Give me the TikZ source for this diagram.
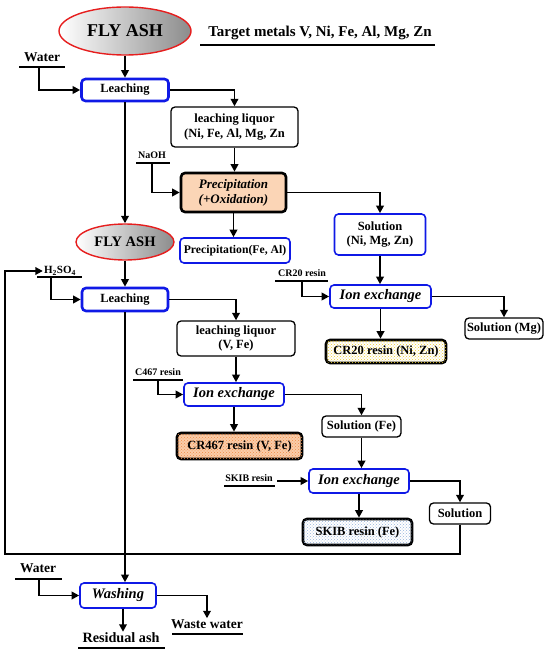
\documentclass[tikz,border=0pt]{standalone}
\usepackage{fontspec}
\setmainfont{Liberation Serif}
\usetikzlibrary{arrows.meta,shapes.geometric,patterns,calc}
\definecolor{bblue}{RGB}{15,25,230}
\definecolor{peach}{RGB}{251,213,182}
\definecolor{peach2}{RGB}{250,205,170}
\definecolor{dotorange}{RGB}{240,140,70}
\definecolor{dotyellow}{RGB}{240,205,40}
\definecolor{dotblue}{RGB}{150,180,220}
\begin{document}
\begin{tikzpicture}[x=1pt,y=-1pt,
  bx/.style={font=\fontsize{12.5}{14.5}\selectfont\bfseries},
  ix/.style={font=\fontsize{14.5}{16}\selectfont\bfseries\itshape},
  sz/.style 2 args={minimum width=#1, minimum height=#2},
  box/.style={draw=black, line width=1.3pt, rounded corners=4pt, align=center, inner sep=1pt, bx},
  bluebox/.style={box, draw=bblue, line width=1.6pt},
  leachbox/.style={box, draw=bblue, line width=2.6pt},
  thickbox/.style={box, line width=2.6pt},
  ash/.style={ellipse, draw={rgb,255:red,230;green,30;blue,30}, line width=1.4pt, inner sep=0pt,
     left color=white, right color={rgb,255:red,140;green,140;blue,140}, font=\bfseries},
  lab/.style={inner sep=1pt, font=\fontsize{13.5}{15}\selectfont\bfseries},
  slab/.style={inner sep=1pt, font=\fontsize{10}{12}\selectfont\bfseries},
  ul/.style={line width=1.2pt},
  arr/.style={line width=1.9pt, -{Triangle[length=7.5pt,width=7.5pt]}}
]
\useasboundingbox (0,0) rectangle (550,655);

% ---- nodes ----
\node[ash, sz={132pt}{48pt}, font=\fontsize{18}{20}\selectfont\bfseries] (fa1) at (125,31) {FLY ASH};
\node[lab, font=\fontsize{15}{17}\selectfont\bfseries] (target) at (320,33) {Target metals V, Ni, Fe, Al, Mg, Zn};
\draw[ul] (200,45) -- (435,45);

\node[lab] (water1) at (42,57) {Water};
\draw[ul] (19,67) -- (65,67);
\coordinate (water1u) at (39,67);

\node[leachbox, sz={87pt}{22pt}] (leach1) at (125,90) {Leaching};
\node[box, sz={127pt}{40pt}] (liq1) at (234.5,127) {leaching liquor\\(Ni, Fe, Al, Mg, Zn};

\node[slab] (naoh) at (152,155) {NaOH};
\draw[ul] (136,163) -- (170,163);
\coordinate (naohu) at (152,163);

\node[thickbox, fill=peach, sz={105pt}{39pt}, font=\fontsize{13}{15}\selectfont\bfseries] (precip) at (233.5,192.5) {\itshape Precipitation\\\itshape (+Oxidation)};
\node[bluebox, sz={110pt}{25pt}, font=\fontsize{11.7}{14}\selectfont\bfseries] (pfeal) at (235,250.5) {Precipitation(Fe, Al)};
\node[bluebox, sz={91pt}{41pt}] (sol1) at (380,234.5) {Solution\\(Ni, Mg, Zn)};

\node[slab] (cr20lab) at (302,273) {CR20 resin};
\draw[ul] (275,281) -- (328,281);
\coordinate (cr20u) at (302,281);

\node[bluebox, sz={101pt}{23pt}, ix] (ion1) at (380.5,296.5) {Ion exchange};
\node[box, sz={78pt}{21pt}] (solmg) at (504,328.5) {Solution (Mg)};
\node[thickbox, fill=white, postaction={pattern=crosshatch dots, pattern color=dotyellow}, sz={120pt}{23pt}] (cr20) at (386,351.5) {CR20 resin (Ni, Zn)};

\node[ash, sz={98pt}{36pt}, font=\fontsize{14.5}{16}\selectfont\bfseries] (fa2) at (125,242) {FLY ASH};

\node[slab, font=\fontsize{11}{13}\selectfont\bfseries] (h2so4) at (60,271) {H\textsubscript{2}SO\textsubscript{4}};
\draw[ul] (37,277) -- (82,277);
\coordinate (h2u) at (51,277);

\node[leachbox, sz={86pt}{23pt}] (leach2) at (125,299.5) {Leaching};
\node[box, sz={118pt}{35pt}] (liq2) at (236,338.5) {leaching liquor\\(V, Fe)};

\node[slab] (c467lab) at (158,372) {C467 resin};
\draw[ul] (133,380) -- (183,380);
\coordinate (c467u) at (158,380);

\node[bluebox, sz={100pt}{23pt}, ix] (ion2) at (234,394.5) {Ion exchange};
\node[thickbox, fill=peach2, postaction={pattern=crosshatch dots, pattern color=dotorange}, sz={125pt}{26pt}] (cr467) at (239.5,446) {CR467 resin (V, Fe)};
\node[box, sz={79pt}{21pt}] (solfe) at (361.5,426.5) {Solution (Fe)};

\node[slab] (skiblab) at (249,478) {SKIB resin};
\draw[ul] (224,486) -- (275,486);
\coordinate (skibu) at (277,481);

\node[bluebox, sz={100pt}{24pt}, ix] (ion3) at (359,481) {Ion exchange};
\node[thickbox, fill=white, postaction={pattern=crosshatch dots, pattern color=dotblue}, sz={109pt}{26pt}] (skib) at (357.5,532) {SKIB resin (Fe)};
\node[box, sz={61pt}{21pt}] (sol) at (460,513.5) {Solution};
\coordinate (loop) at (5,554);

\node[lab] (water2) at (38,568) {Water};
\draw[ul] (15,579) -- (62,579);
\coordinate (water2u) at (39,579);

\node[bluebox, sz={76pt}{25pt}, ix] (wash) at (118,595.5) {Washing};
\node[lab, font=\fontsize{14.2}{16}\selectfont\bfseries] (resid) at (121,638) {Residual ash};
\draw[ul] (78,648) -- (165,648);
\node[lab] (waste) at (207,624) {Waste water};
\draw[ul] (172,634) -- (243,634);

% ---- connectors ----
\draw[arr] (fa1) -- (leach1);
\draw[arr] (water1u) |- (leach1.west);
\draw[arr] (leach1.east) -| (liq1.north);
\draw[arr] (liq1.south) -- (liq1.south |- precip.north);
\draw[arr] (naohu) |- (precip.west);
\draw[arr] (precip.south) -- (precip.south |- pfeal.north);
\draw[arr] (precip.east) -| (sol1.north);
\draw[arr] (sol1.south) -- (sol1.south |- ion1.north);
\draw[arr] (cr20u) |- (ion1.west);
\draw[arr] (ion1.east) -| (solmg.north);
\draw[arr] (ion1.south) -- (ion1.south |- cr20.north);
\draw[arr] (leach1.south) -- (fa2.north);
\draw[arr] (fa2) -- (leach2);
\draw[arr] (h2u) |- (leach2.west);
\draw[arr] (leach2.east) -| (liq2.north);
\draw[arr] (liq2.south) -- (liq2.south |- ion2.north);
\draw[arr] (c467u) |- (ion2.west);
\draw[arr] (ion2.south) -- (ion2.south |- cr467.north);
\draw[arr] (ion2.east) -| (solfe.north);
\draw[arr] (solfe.south) -- (solfe.south |- ion3.north);
\draw[arr] (skibu) -- (skibu -| ion3.west);
\draw[arr] (ion3.south) -- (ion3.south |- skib.north);
\draw[arr] (ion3.east) -| (sol.north);
\draw[arr] (sol.south) |- (loop) |- (h2so4.west);
\draw[arr] (leach2.south) -- (leach2.south |- wash.north);
\draw[arr] (water2u) |- (wash.west);
\draw[arr] ([xshift=5pt]wash.south) -- ([xshift=5pt]wash.south |- resid.north);
\draw[arr] (wash.east) -| (waste.north);
\end{tikzpicture}
\end{document}
